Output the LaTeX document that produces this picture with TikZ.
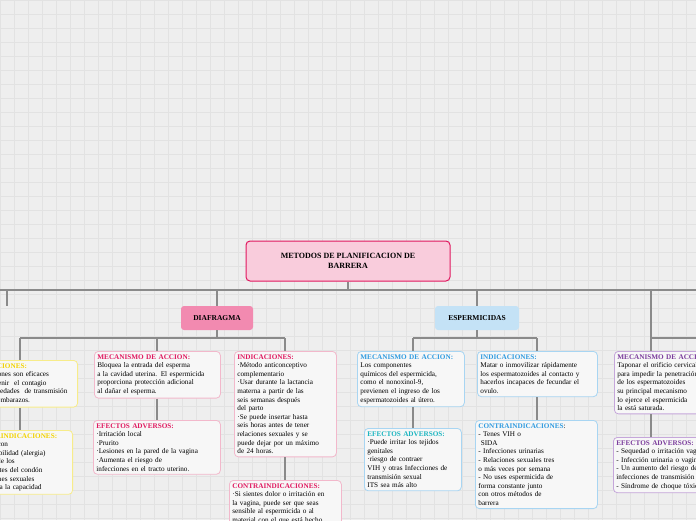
\documentclass[tikz,border=0pt]{standalone}
\usepackage{fontspec}
\setmainfont{Liberation Serif}
\definecolor{bgc}{HTML}{EEEEEE}
\definecolor{gridc}{HTML}{E2E2E2}
\definecolor{crim}{HTML}{E0185F}
\definecolor{pinkfill}{HTML}{F9CCDC}
\definecolor{pinkbtn}{HTML}{F28AB0}
\definecolor{pinkline}{HTML}{F2B8CB}
\definecolor{bluet}{HTML}{2F9BE0}
\definecolor{bluefill}{HTML}{C4E2F6}
\definecolor{blueline}{HTML}{A8D5F2}
\definecolor{tealt}{HTML}{1BB5C0}
\definecolor{purt}{HTML}{7B3C9C}
\definecolor{purline}{HTML}{C5A6DA}
\definecolor{yelt}{HTML}{F2D200}
\definecolor{yelline}{HTML}{F7EC8A}
\definecolor{linkc}{HTML}{8A8A8A}
\tikzset{
  x=1pt, y=-1pt,
  leaf/.style={draw=#1, line width=0.8pt, rounded corners=4pt, fill=white!55!bgc,
    anchor=north west, align=left, inner sep=3pt,
    font=\fontsize{7.2}{8.6}\selectfont},
  link/.style={draw=linkc, line width=1.2pt}
}
\begin{document}
\begin{tikzpicture}
\clip (0,0) rectangle (696,520);
% background grid
\fill[bgc] (0,0) rectangle (696,520);
\foreach \g in {0,14,...,700} {
  \draw[gridc, line width=0.4pt] (\g,0) -- (\g,520);
  \draw[gridc, line width=0.4pt] (0,\g) -- (696,\g);
}

% main nodes
\node[draw=crim, line width=1pt, fill=pinkfill, rounded corners=4pt, minimum width=204pt,
  minimum height=40pt, align=center, font=\fontsize{8}{9.5}\selectfont\bfseries] (root) at (348,261)
  {METODOS DE PLANIFICACION DE\\BARRERA};
\node[fill=pinkbtn, rounded corners=3pt, minimum width=72pt, minimum height=24pt,
  font=\fontsize{7.5}{8}\selectfont\bfseries] (diaf) at (217,318) {DIAFRAGMA};
\node[fill=bluefill, rounded corners=3pt, minimum width=84pt, minimum height=24pt,
  font=\fontsize{7.5}{8}\selectfont\bfseries] (esper) at (477,318) {ESPERMICIDAS};

% left (cut) column
\node[leaf=yelline, text width=104pt, anchor=north east] (yind) at (78,360)
  {{\color{yelt}\bfseries INDICACIONES:}\\Los condones son eficaces\\para prevenir\ \ el contagio\\
   de enfermedades\ \ de transmisión\\sexual y embarazos.};
\node[leaf=yelline, text width=100pt, anchor=north east] (ycon) at (73,430)
  {{\color{yelt}\bfseries CONTRAINDICACIONES:}\\Personas con\\hipersensibilidad (alergia)\\
   a alguno de los\\componentes del condón\\Disfunciones sexuales\\asociadas a la capacidad};

% diafragma
\node[leaf=pinkline, text width=120pt] (dmec) at (94,351)
  {{\color{crim}\bfseries MECANISMO DE ACCION:}\\Bloquea la entrada del esperma\\
   a la cavidad uterina. El espermicida\\proporciona protección adicional\\al dañar el esperma.};
\node[leaf=pinkline, text width=121pt] (defe) at (93,420)
  {{\color{crim}\bfseries EFECTOS ADVERSOS:}\\·Irritación local\\·Prurito\\
   ·Lesiones en la pared de la vagina\\·Aumenta el riesgo de\\infecciones en el tracto uterino.};
\node[leaf=pinkline, text width=96pt] (dind) at (234,351)
  {{\color{crim}\bfseries INDICACIONES:}\\·Método anticonceptivo\\complementario\\
   ·Usar durante la lactancia\\materna a partir de las\\seis semanas después\\del parto\\
   ·Se puede insertar hasta\\seis horas antes de tener\\relaciones sexuales y se\\
   puede dejar por un máximo\\de 24 horas.};
\node[leaf=pinkline, text width=106pt] (dcon) at (229,480)
  {{\color{crim}\bfseries CONTRAINDICACIONES:}\\·Si sientes dolor o irritación en\\
   la vagina, puede ser que seas\\sensible al espermicida o al\\material con el que está hecho};

% espermicidas
\node[leaf=blueline, text width=101pt] (emec) at (357,351)
  {{\color{bluet}\bfseries MECANISMO DE ACCION:}\\Los componentes\\químicos del espermicida,\\
   como el nonoxinol-9,\\previenen el ingreso de los\\espermatozoides al útero.};
\node[leaf=blueline, text width=91pt] (eefe) at (364,428)
  {{\color{tealt}\bfseries EFECTOS ADVERSOS:}\\·Puede irritar los tejidos\\genitales\\
   ·riesgo de contraer\\VIH y otras Infecciones de\\transmisión sexual\\ITS sea más alto};
\node[leaf=blueline, text width=114pt] (eind) at (477,351)
  {{\color{bluet}\bfseries INDICACIONES:}\\Matar o inmovilizar rápidamente\\
   los espermatozoides al contacto y\\hacerlos incapaces de fecundar el\\ovulo.};
\node[leaf=blueline, text width=116pt] (econ) at (475,420)
  {{\color{bluet}\bfseries CONTRAINDICACIONES}:\\- Tenes VIH o\\\ SIDA\\- Infecciones urinarias\\
   - Relaciones sexuales tres\\o más veces por semana\\- No uses espermicida de\\
   forma constante junto\\con otros métodos de\\barrera};

% right (cut) column
\node[leaf=purline, text width=116pt] (pmec) at (614,351)
  {{\color{purt}\bfseries MECANISMO DE ACCION:}\\Taponar el orificio cervical\\
   para impedir la penetración\\de los espermatozoides\\su principal mecanismo\\
   lo ejerce el espermicida\\la está saturada.};
\node[leaf=purline, text width=116pt] (pefe) at (613,437)
  {{\color{purt}\bfseries EFECTOS ADVERSOS:}\\- Sequedad o irritación vaginal\\
   - Infección urinaria o vaginal\\- Un aumento del riesgo de\\infecciones de transmisión\\
   - Síndrome de choque tóxico};

% connectors
\coordinate (busL) at (0,290);
\coordinate (busR) at (696,290);
\draw[link] (root.south) -- (348,290);
\draw[link] (busL) -- (busR);
\draw[link] (217,290) -- (diaf.north);
\draw[link] (477,290) -- (esper.north);
\draw[link] (7,290) -- (7,306);
% diafragma branch
\draw[link] (diaf.south) -- (217,338);
\draw[link] (20,338) -- (285,338);
\draw[link] (20,338) -- (20,360);
\draw[link] (157,338) -- (dmec.north -| 157,0);
\draw[link] (285,338) -- (dind.north -| 285,0);
\draw[link] (dmec.south -| 157,0) -- (defe.north -| 157,0);
\draw[link] (dind.south -| 285,0) -- (dcon.north -| 285,0);
\draw[link] (yind.south -| 20,0) -- (ycon.north -| 20,0);
% espermicidas branch
\draw[link] (esper.south) -- (477,338);
\draw[link] (413,338) -- (537,338);
\draw[link] (413,338) -- (emec.north -| 413,0);
\draw[link] (537,338) -- (eind.north -| 537,0);
\draw[link] (emec.south -| 413,0) -- (eefe.north -| 413,0);
\draw[link] (eind.south -| 537,0) -- (econ.north -| 537,0);
% right branch
\draw[link] (651,290) -- (651,338) -- (696,338);
\draw[link] (651,338) -- (pmec.north -| 651,0);
\draw[link] (pmec.south -| 651,0) -- (pefe.north -| 651,0);
\end{tikzpicture}
\end{document}
